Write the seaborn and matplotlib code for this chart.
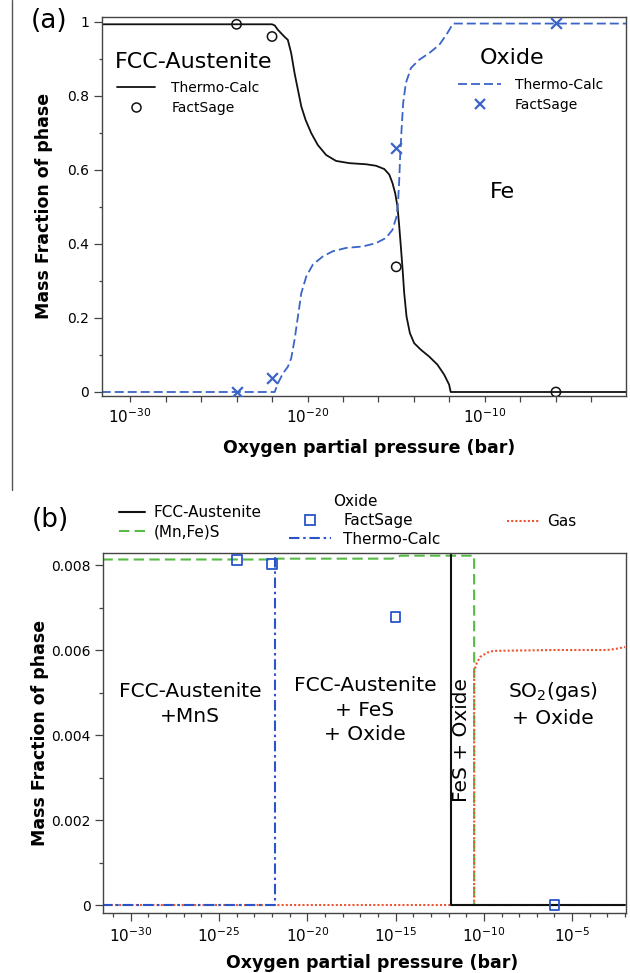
import numpy as np
import pandas as pd
import matplotlib
matplotlib.use("Agg")
import matplotlib.pyplot as plt
from matplotlib.lines import Line2D
from matplotlib.ticker import FixedLocator, FixedFormatter, NullFormatter
import seaborn as sns

# ---------------- data (log10 of O2 partial pressure, mass fraction) ----------------
# Panel (a)
fcc_tc_logp = [-31.6, -22.0, -21.85, -21.67, -21.29, -21.11, -20.92, -20.73, -20.54, -20.35,
               -20.11, -19.79, -19.42, -18.95, -18.39, -17.64, -16.70, -16.14, -15.67, -15.39,
               -15.21, -15.06, -14.93, -14.83, -14.74, -14.64, -14.55, -14.42, -14.23, -13.99,
               -13.61, -13.15, -12.68, -12.30, -12.02, -11.93, -2.0]
fcc_tc_frac = [0.993, 0.993, 0.99, 0.978, 0.959, 0.951, 0.915, 0.861, 0.816, 0.771,
               0.735, 0.699, 0.667, 0.640, 0.624, 0.618, 0.615, 0.611, 0.602, 0.587,
               0.564, 0.537, 0.501, 0.447, 0.393, 0.330, 0.267, 0.204, 0.159, 0.132,
               0.114, 0.096, 0.074, 0.047, 0.020, 0.0, 0.0]
oxide_tc_logp = [-31.6, -21.85, -21.67, -21.39, -21.11, -20.92, -20.73, -20.54, -20.35, -20.07,
                 -19.70, -19.14, -18.58, -17.83, -16.89, -16.14, -15.58, -15.21, -14.98, -14.89,
                 -14.83, -14.78, -14.70, -14.61, -14.46, -14.17, -13.71, -13.15, -12.58, -12.12,
                 -11.8, -2.0]
oxide_tc_frac = [0.0, 0.0, 0.023, 0.050, 0.068, 0.091, 0.141, 0.204, 0.267, 0.312,
                 0.344, 0.366, 0.380, 0.389, 0.393, 0.402, 0.416, 0.438, 0.474, 0.519,
                 0.573, 0.636, 0.708, 0.780, 0.834, 0.875, 0.897, 0.915, 0.937, 0.969,
                 0.995, 0.995]
fcc_fs_logp = [-24, -22, -15, -6]
fcc_fs_frac = [0.993, 0.96, 0.338, 0.0]
oxide_fs_logp = [-24, -22, -15, -6]
oxide_fs_frac = [0.0, 0.038, 0.659, 0.997]

# Panel (b)
fcc_b_logp = [-31.6, -11.85, -11.85, -2.0]
fcc_b_frac = [0.99, 0.99, 0.0, 0.0]
mnfes_logp = [-31.6, -21.9, -21.7, -15.2, -14.7, -10.55, -10.55, -2.0]
mnfes_frac = [0.00813, 0.00813, 0.00815, 0.00815, 0.00822, 0.00822, 0.0, 0.0]
oxide_b_logp = [-31.6, -21.8, -21.8]
oxide_b_frac = [0.0, 0.0, 0.5]
gas_logp = [-31.6, -10.55, -10.55, -10.4, -10.2, -9.8, -9.47, -6.0, -3.0, -2.5, -2.0]
gas_frac = [0.0, 0.0, 0.0055, 0.0057, 0.00584, 0.00594, 0.00598, 0.006, 0.006, 0.00603, 0.00607]
oxide_fs_b_logp = [-24, -22, -15, -6]
oxide_fs_b_frac = [0.00812, 0.00802, 0.00678, 0.0]

top_yticks = [0, 0.2, 0.4, 0.6, 0.8, 1.0]
top_yticklabels = ["0", "0.2", "0.4", "0.6", "0.8", "1"]
bot_yticks = [0, 0.002, 0.004, 0.006, 0.008]
bot_yticklabels = ["0", "0.002", "0.004", "0.006", "0.008"]

# ---------------- style ----------------
sns.set_style("ticks")
plt.rcParams['font.family'] = ['DejaVu Sans']
plt.rcParams['axes.edgecolor'] = '#444444'
plt.rcParams['axes.linewidth'] = 1.0
plt.rcParams['text.color'] = 'black'
plt.rcParams['axes.labelcolor'] = 'black'

W, H = 630, 973
fig = plt.figure(figsize=(W / 100, H / 100), dpi=100)
fig.patch.set_facecolor('white')

def fx(px):
    return px / W

def fy(py):
    return 1 - py / H

def df(lp, fr):
    return pd.DataFrame({"p": np.power(10.0, lp), "f": fr})

BLACK = '#111111'
BLUE = '#3a64c8'
BLUE2 = '#2a55c8'
GREEN = '#55bb44'
RED = '#ee5533'

# ---------------- panel (a) ----------------
ax1 = fig.add_axes([fx(101.7), fy(395.7), (626 - 101.7) / W, (395.7 - 16.7) / H])
ax1.set_xscale('log')
sns.lineplot(data=df(fcc_tc_logp, fcc_tc_frac), x="p", y="f", ax=ax1, color=BLACK,
             lw=1.3, sort=False, estimator=None)
sns.lineplot(data=df(oxide_tc_logp, oxide_tc_frac), x="p", y="f", ax=ax1, color=BLUE,
             lw=1.3, sort=False, estimator=None)
ax1.lines[-1].set_dashes((5, 2.2))
sns.scatterplot(data=df(fcc_fs_logp, fcc_fs_frac), x="p", y="f", ax=ax1, marker='o',
                s=45, facecolor='none', edgecolor=BLACK, linewidth=1.1, zorder=5)
sns.scatterplot(data=df(oxide_fs_logp, oxide_fs_frac), x="p", y="f", ax=ax1, marker='x',
                s=60, color=BLUE, linewidth=1.6, zorder=5)
ax1.set_xlim(10 ** -31.6, 10 ** -2.05)
ax1.set_ylim(-0.01, 1.0135)
ax1.xaxis.set_major_locator(FixedLocator([1e-30, 1e-20, 1e-10]))
ax1.xaxis.set_major_formatter(FixedFormatter([r"$10^{-30}$", r"$10^{-20}$", r"$10^{-10}$"]))
ax1.xaxis.set_minor_locator(FixedLocator([10.0 ** e for e in range(-30, -1, 2) if e % 10 != 0]))
ax1.xaxis.set_minor_formatter(NullFormatter())
ax1.set_yticks(top_yticks)
ax1.set_yticklabels(top_yticklabels)
ax1.yaxis.set_minor_locator(FixedLocator([0.1, 0.3, 0.5, 0.7, 0.9]))
ax1.tick_params(axis='x', which='both', direction='out', length=4.5, width=0.9, labelsize=11,
                colors='#444444', labelcolor='black')
ax1.tick_params(axis='y', which='major', direction='out', length=6, width=0.9, labelsize=10,
                pad=3, colors='#444444', labelcolor='black')
ax1.tick_params(axis='y', which='minor', direction='out', length=2.5, width=0.9, colors='#444444')
ax1.set_xlabel("Oxygen partial pressure (bar)", fontsize=12.5, fontweight='bold')
ax1.set_ylabel("Mass Fraction of phase", fontsize=12.5, fontweight='bold')
ax1.xaxis.label.set_va('center')
ax1.yaxis.label.set_va('center')
ax1.xaxis.set_label_coords(0.51, -0.138)
ax1.yaxis.set_label_coords((44 - 101.7) / 524.3, 0.5)

fig.text(fx(49), fy(21), "(a)", fontsize=19, ha='center', va='center')
fig.text(fx(115), fy(62), "FCC-Austenite", fontsize=16, ha='left', va='center')
fig.text(fx(512), fy(58), "Oxide", fontsize=16, ha='center', va='center')
fig.text(fx(502), fy(192), "Fe", fontsize=16, ha='center', va='center')

h1 = [Line2D([], [], color=BLACK, lw=1.3),
      Line2D([], [], color=BLACK, marker='o', ls='none', mfc='none', ms=6.5, mew=1.1)]
leg1 = ax1.legend(h1, ["Thermo-Calc", "FactSage"], loc='upper left',
                  bbox_to_anchor=(fx(117), fy(81)), bbox_transform=fig.transFigure,
                  frameon=False, fontsize=10, borderpad=0, borderaxespad=0,
                  handlelength=2.7, handletextpad=1.2, labelspacing=0.45)
ax1.add_artist(leg1)
h2 = [Line2D([], [], color=BLUE, lw=1.3, dashes=(5, 2.2)),
      Line2D([], [], color=BLUE, marker='x', ls='none', ms=7.5, mew=1.6)]
leg2 = ax1.legend(h2, ["Thermo-Calc", "FactSage"], loc='upper left',
                  bbox_to_anchor=(fx(458), fy(78)), bbox_transform=fig.transFigure,
                  frameon=False, fontsize=10, borderpad=0, borderaxespad=0,
                  handlelength=3.1, handletextpad=1.0, labelspacing=0.45)

# ---------------- panel (b) ----------------
ax2 = fig.add_axes([fx(103.3), fy(913.3), (626 - 103.3) / W, (913.3 - 552.7) / H])
ax2.set_xscale('log')
sns.lineplot(data=df(mnfes_logp, mnfes_frac), x="p", y="f", ax=ax2, color=GREEN,
             lw=1.5, sort=False, estimator=None)
ax2.lines[-1].set_dashes((5, 2.5))
sns.lineplot(data=df(gas_logp, gas_frac), x="p", y="f", ax=ax2, color=RED,
             lw=1.5, sort=False, estimator=None)
ax2.lines[-1].set_dashes((1.0, 1.0))
sns.lineplot(data=df(fcc_b_logp, fcc_b_frac), x="p", y="f", ax=ax2, color=BLACK,
             lw=1.5, sort=False, estimator=None)
sns.lineplot(data=df(oxide_b_logp, oxide_b_frac), x="p", y="f", ax=ax2, color=BLUE2,
             lw=1.5, sort=False, estimator=None)
ax2.lines[-1].set_dashes((5, 1.8, 1.2, 1.8))
sns.scatterplot(data=df(oxide_fs_b_logp, oxide_fs_b_frac), x="p", y="f", ax=ax2, marker='s',
                s=50, facecolor='none', edgecolor=BLUE2, linewidth=1.3, zorder=6)
ax2.set_xlim(10 ** -31.55, 10 ** -1.95)
ax2.set_ylim(-0.000195, 0.00829)
ax2.xaxis.set_major_locator(FixedLocator([10.0 ** e for e in range(-30, -1, 5)]))
ax2.xaxis.set_major_formatter(FixedFormatter([r"$10^{%d}$" % e for e in range(-30, -1, 5)]))
ax2.xaxis.set_minor_locator(FixedLocator([10.0 ** e for e in range(-31, -1) if e % 5 != 0]))
ax2.xaxis.set_minor_formatter(NullFormatter())
ax2.set_yticks(bot_yticks)
ax2.set_yticklabels(bot_yticklabels)
ax2.yaxis.set_minor_locator(FixedLocator([0.001, 0.003, 0.005, 0.007]))
ax2.tick_params(axis='x', which='major', direction='out', length=5.8, width=0.9, labelsize=11,
                colors='#444444', labelcolor='black')
ax2.tick_params(axis='y', which='major', direction='out', length=6, width=0.9, labelsize=10,
                pad=3, colors='#444444', labelcolor='black')
ax2.tick_params(axis='both', which='minor', direction='out', length=3, width=0.9, colors='#444444')
ax2.set_xlabel("Oxygen partial pressure (bar)", fontsize=12.5, fontweight='bold')
ax2.set_ylabel("Mass Fraction of phase", fontsize=12.5, fontweight='bold')
ax2.xaxis.label.set_va('center')
ax2.yaxis.label.set_va('center')
ax2.xaxis.set_label_coords(0.515, -0.138)
ax2.yaxis.set_label_coords((40 - 103.3) / 522.7, 0.5)

fig.text(fx(50), fy(520), "(b)", fontsize=19, ha='center', va='center')
fig.text(fx(190), fy(704), "FCC-Austenite\n+MnS", fontsize=14.5, ha='center', va='center',
         multialignment='center', linespacing=1.35)
fig.text(fx(365), fy(710), "FCC-Austenite\n+ FeS\n+ Oxide", fontsize=14.5, ha='center', va='center',
         multialignment='center', linespacing=1.35)
fig.text(fx(462), fy(740), "FeS + Oxide", fontsize=14.5, ha='center', va='center', rotation=90)
fig.text(fx(553), fy(704), "SO$_2$(gas)\n+ Oxide", fontsize=14.5, ha='center', va='center',
         multialignment='center', linespacing=1.35)
fig.text(fx(355), fy(502), "Oxide", fontsize=11, ha='center', va='center')

hb1 = [Line2D([], [], color=BLACK, lw=1.5), Line2D([], [], color=GREEN, lw=1.5, dashes=(5, 2.5))]
lb1 = ax2.legend(hb1, ["FCC-Austenite", "(Mn,Fe)S"], loc='upper left',
                 bbox_to_anchor=(fx(119), fy(505)), bbox_transform=fig.transFigure,
                 frameon=False, fontsize=11, borderpad=0, borderaxespad=0,
                 handlelength=1.7, handletextpad=0.55, labelspacing=0.3)
ax2.add_artist(lb1)
hb2 = [Line2D([], [], color=BLUE2, marker='s', ls='none', mfc='none', ms=7, mew=1.3),
       Line2D([], [], color=BLUE2, lw=1.5, dashes=(5, 1.8, 1.2, 1.8))]
lb2 = ax2.legend(hb2, ["FactSage", "Thermo-Calc"], loc='upper left',
                 bbox_to_anchor=(fx(289), fy(513)), bbox_transform=fig.transFigure,
                 frameon=False, fontsize=11, borderpad=0, borderaxespad=0,
                 handlelength=2.75, handletextpad=0.8, labelspacing=0.25)
ax2.add_artist(lb2)
hb3 = [Line2D([], [], color=RED, lw=1.5, dashes=(1.0, 1.0))]
lb3 = ax2.legend(hb3, ["Gas"], loc='upper left',
                 bbox_to_anchor=(fx(507), fy(514)), bbox_transform=fig.transFigure,
                 frameon=False, fontsize=11, borderpad=0, borderaxespad=0,
                 handlelength=2.1, handletextpad=0.5)

# separator line at left edge
fig.add_artist(Line2D([fx(12), fx(12)], [fy(0), fy(490)], color='#555555', lw=1.0,
                      transform=fig.transFigure))

fig.savefig("out.png", dpi=100)
